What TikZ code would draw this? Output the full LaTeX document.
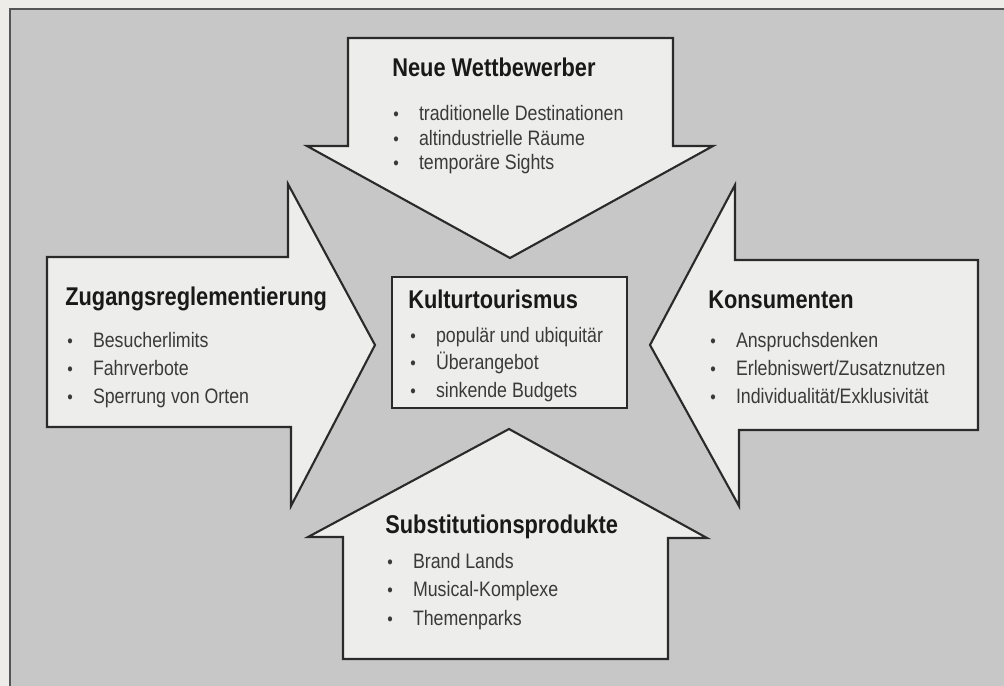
\documentclass[tikz,border=0pt]{standalone}
\usepackage{fontspec}
\setmainfont[FakeStretch=0.85]{Liberation Sans}
\usetikzlibrary{positioning}
\definecolor{papercol}{HTML}{EDECE8}
\definecolor{framegray}{HTML}{C7C7C7}
\definecolor{arrowfill}{HTML}{EDEDEB}
\definecolor{inkline}{HTML}{2A2A2A}
\definecolor{inktext}{HTML}{3A3A3A}
\newcommand{\blt}[1]{\makebox[14.6pt][l]{\fontsize{10.5}{10}\selectfont\textbullet}#1}
\tikzset{
    force/.style = {draw=inkline, fill=arrowfill, line width=1.2pt},
    heading/.style = {anchor=base west, inner sep=0pt, text=black!90,
        font=\fontsize{14.6}{17}\selectfont\bfseries},
    % base = Grundlinie der letzten Zeile
    itemlist/.style = {anchor=base west, inner sep=0pt, align=left, text=inktext,
        font=\fontsize{11.9}{#1}\selectfont},
    itemlist/.default = 15.9pt,
}

\begin{document}
\begin{tikzpicture}[x=0.02cm, y=-0.02cm]
\useasboundingbox (0,0) rectangle (1004,686);
\fill[papercol] (0,0) rectangle (1004,686);
\fill[framegray] (10,9) rectangle (1004,686);
\draw[inkline!80, line width=0.9pt] (10,686) -- (10,9) -- (1004,9);

% Pfeile auf den Kern
\filldraw[force] (348,38) -- (673,38) -- (673,146) -- (713,146) -- (510,258)
    -- (307,146) -- (348,146) -- cycle;
\filldraw[force] (47,257) -- (288,257) -- (288,184) -- (375,345) -- (291,506)
    -- (291,427) -- (47,427) -- cycle;
\filldraw[force] (978,260) -- (735,260) -- (735,185) -- (650,345) -- (739,506)
    -- (739,430) -- (978,430) -- cycle;
\filldraw[force] (343,659) -- (343,537) -- (308,537) -- (509,429) -- (707,538)
    -- (668,538) -- (668,659) -- cycle;
\filldraw[force] (392,277) rectangle (627,408);

\node (wettb) [heading] at (392,77) {Neue Wettbewerber};
\node (wettbList) [itemlist=14.2pt] at (393,170)
    {\blt{traditionelle Destinationen}\\ \blt{altindustrielle Räume}\\ \blt{temporäre Sights}};

\node (zugang) [heading] at (65,305) {Zugangsreglementierung};
\node (zugangList) [itemlist] at (67,403)
    {\blt{Besucherlimits}\\ \blt{Fahrverbote}\\ \blt{Sperrung von Orten}};

\node (kultur) [heading] at (408,308) {Kulturtourismus};
\node (kulturList) [itemlist=15.5pt] at (410,397)
    {\blt{populär und ubiquitär}\\ \blt{Überangebot}\\ \blt{sinkende Budgets}};

\node (konsum) [heading] at (708,308) {Konsumenten};
\node (konsumList) [itemlist] at (710,403)
    {\blt{Anspruchsdenken}\\ \blt{Erlebniswert/Zusatznutzen}\\ \blt{Individualität/Exklusivität}};

\node (subst) [heading] at (385,533) {Substitutionsprodukte};
\node (substList) [itemlist=16.1pt] at (387,625)
    {\blt{Brand Lands}\\ \blt{Musical-Komplexe}\\ \blt{Themenparks}};
\end{tikzpicture}
\end{document}
